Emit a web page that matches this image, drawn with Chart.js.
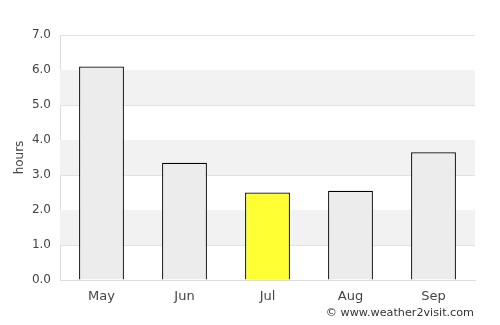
<!DOCTYPE html>
<html lang="en">
<head>
    <meta charset="UTF-8">
    <title>Sunshine hours</title>
    <style>
        html, body { margin: 0; padding: 0; background: #fff; }
        #wrap { width: 500px; height: 325px; }
    </style>
</head>
<body>
    <div id="wrap"><canvas id="grafico"></canvas></div>
    <script src="https://cdn.jsdelivr.net/npm/chart.js"></script>
    <script>
        const meses = ['May', 'Jun', 'Jul', 'Aug', 'Sep'];
        const horas = [6.1, 3.35, 2.5, 2.55, 3.65];
        const corBarras = ['#ececec', '#ececec', '#ffff33', '#ececec', '#ececec'];
        const rotuloY = 'hours';
        const credito = '\u00a9 www.weather2visit.com';

        // faixas cinza alternadas no fundo
        const faixas = {
            id: 'faixas',
            beforeDatasetsDraw(chart) {
                const { ctx, chartArea, scales } = chart;
                ctx.save();
                ctx.fillStyle = '#f2f2f2';
                for (let v = 1; v < 7; v += 2) {
                    const y1 = scales.y.getPixelForValue(v + 1);
                    const y2 = scales.y.getPixelForValue(v);
                    ctx.fillRect(chartArea.left, y1, chartArea.right - chartArea.left, y2 - y1);
                }
                ctx.restore();
            },
            afterDraw(chart) {
                const ctx = chart.ctx;
                ctx.save();
                ctx.font = '11.2px "DejaVu Sans"';
                ctx.fillStyle = '#333';
                ctx.textAlign = 'right';
                ctx.textBaseline = 'middle';
                ctx.fillText(credito, 474, 313);
                ctx.restore();
            }
        };

        new Chart(document.getElementById('grafico'), {
            type: 'bar',
            data: {
                labels: meses,
                datasets: [{
                    data: horas,
                    backgroundColor: corBarras,
                    borderColor: '#000',
                    borderWidth: 1.2,
                    borderSkipped: 'bottom',
                    barPercentage: 0.54,
                    categoryPercentage: 1
                }]
            },
            options: {
                responsive: true,
                maintainAspectRatio: false,
                animation: false,
                layout: { padding: { top: 35, right: 25, left: 0, bottom: 0 } },
                plugins: {
                    legend: { display: false },
                    tooltip: { enabled: false }
                },
                scales: {
                    x: {
                        grid: { display: false, drawTicks: false },
                        border: { color: '#dddddd' },
                        ticks: { color: '#444', font: { family: 'DejaVu Sans', size: 13 }, padding: 9 },
                        afterFit(scale) { scale.height = 45; }
                    },
                    y: {
                        min: 0,
                        max: 7,
                        ticks: {
                            stepSize: 1,
                            color: '#444',
                            padding: 9,
                            font: { family: 'DejaVu Sans', size: 12 },
                            callback: v => v.toFixed(1)
                        },
                        grid: { color: '#e2e2e2', drawTicks: false },
                        border: { color: '#dddddd' },
                        title: {
                            display: true,
                            text: rotuloY,
                            color: '#444',
                            font: { family: 'DejaVu Sans', size: 12 },
                            padding: { top: 13, bottom: 4 }
                        },
                        afterFit(scale) { scale.width = 60; }
                    }
                }
            },
            plugins: [faixas]
        });
    </script>
</body>
</html>
